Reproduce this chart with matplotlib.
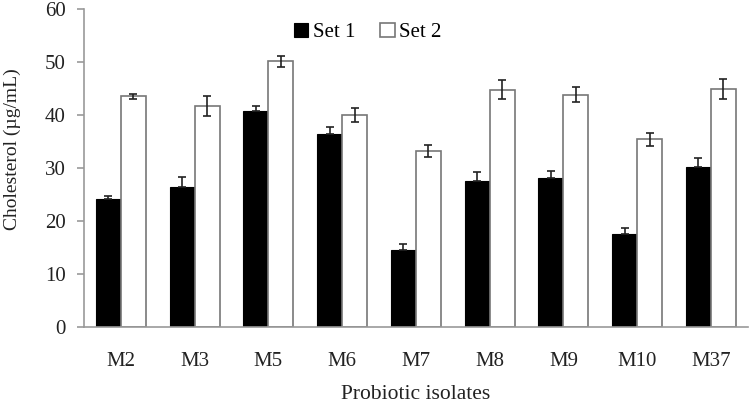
import numpy as np
import matplotlib
matplotlib.use('Agg')
import matplotlib.pyplot as plt

# Data
isolates = ['M2', 'M3', 'M5', 'M6', 'M7', 'M8', 'M9', 'M10', 'M37']
set1 = [24.2, 26.3, 40.8, 36.4, 14.5, 27.6, 28.0, 17.5, 30.1]
set1_err = [0.5, 1.9, 0.9, 1.3, 1.1, 1.7, 1.4, 1.2, 1.8]
set2 = [43.5, 41.7, 50.1, 40.0, 33.2, 44.7, 43.8, 35.4, 44.9]
set2_err = [0.5, 1.9, 1.0, 1.3, 1.1, 1.8, 1.4, 1.2, 1.9]

plt.rcParams['font.family'] = ['Liberation Serif', 'DejaVu Serif']

fig = plt.figure(figsize=(7.5, 4.03), dpi=100)
ax = fig.add_axes([0.112, 0.189, 0.885, 0.789])

x = np.arange(len(isolates))
w = 0.34
ekw = dict(ecolor='#222222', elinewidth=1.2, capsize=3, capthick=1.2)

# set 1 bars are black, only the upper half of the error bar shows
ax.bar(x - w / 2, set1, w, yerr=[np.zeros(len(set1)), set1_err], color='black',
       edgecolor='black', linewidth=0.8, label='Set 1', error_kw=ekw)
ax.bar(x + w / 2, set2, w, yerr=set2_err, color='white', edgecolor='#777777',
       linewidth=1.2, label='Set 2', error_kw=ekw)

ax.set_xlim(-0.5, len(isolates) - 0.5)
ax.set_ylim(0, 60)
ax.set_yticks(range(0, 61, 10))
ax.set_xticks(x)
ax.set_xticklabels(isolates)

for s in ['top', 'right']:
    ax.spines[s].set_visible(False)
for s in ['left', 'bottom']:
    ax.spines[s].set_color('#999999')
    ax.spines[s].set_linewidth(1.2)

ax.tick_params(axis='y', colors='#999999', labelcolor='#222222',
               labelsize=15, length=5, width=1.2, pad=8)
ax.tick_params(axis='x', length=0, labelsize=15, labelcolor='#222222', pad=18)

ax.set_ylabel('Cholesterol (µg/mL)', fontsize=14, color='#222222', va='center')
ax.yaxis.set_label_coords(-0.108, 0.56)
ax.set_xlabel('Probiotic isolates', fontsize=15.5, color='#222222', labelpad=10)

ax.legend(loc='upper center', bbox_to_anchor=(0.427, 1.015), ncol=2,
          frameon=False, fontsize=15, handlelength=0.7, handleheight=0.7,
          handletextpad=0.2, columnspacing=1.2)

fig.savefig('out.png', dpi=100)
